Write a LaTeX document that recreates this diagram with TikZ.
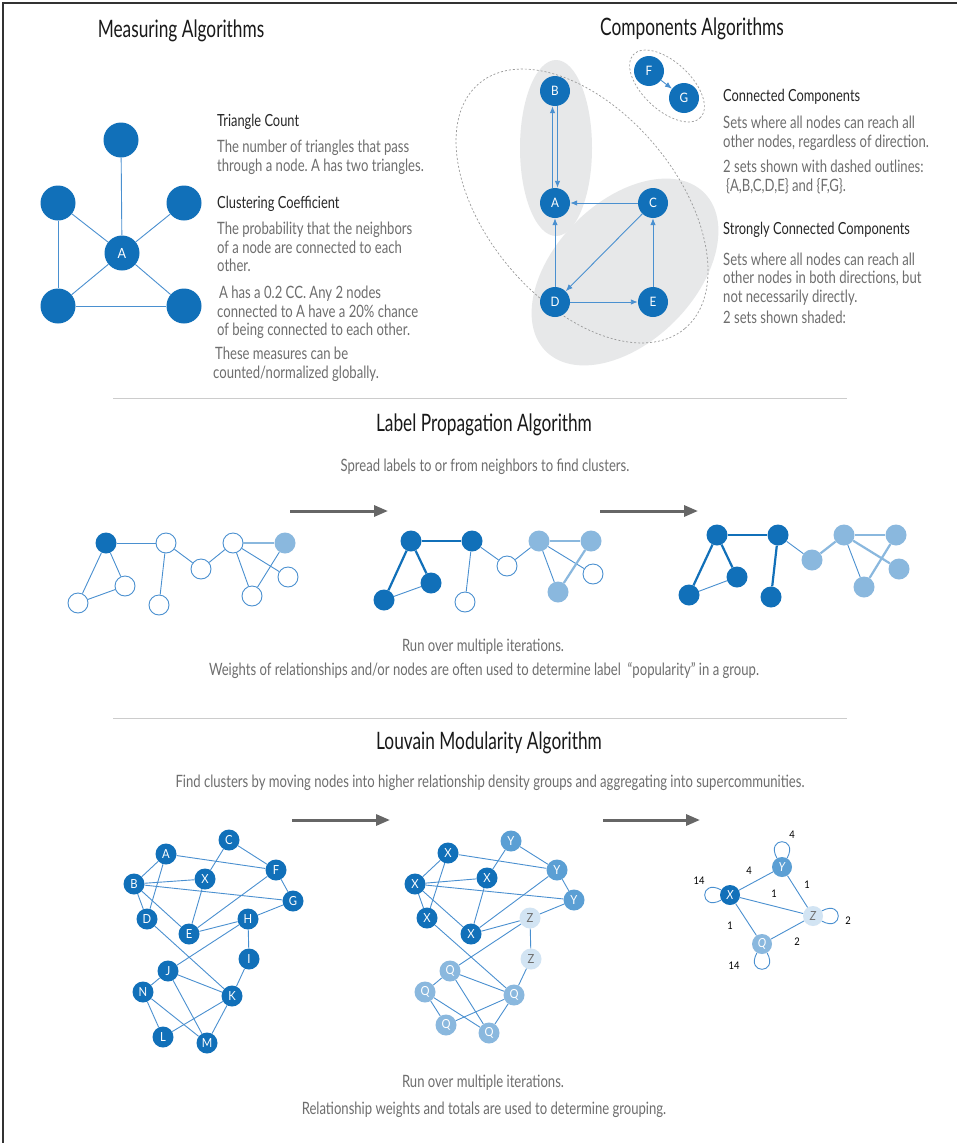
\documentclass[tikz,border=0pt]{standalone}
\usepackage{fontspec}
\setmainfont{Lato}[FakeStretch=0.77]
\newfontfamily\titlefont{Lato}[FakeStretch=0.72]
\newfontfamily\nodefont{Lato}[FakeStretch=0.9]
\frenchspacing
\usetikzlibrary{arrows.meta}
\definecolor{dblue}{HTML}{1170B9}
\definecolor{lblue}{HTML}{8AB8DE}
\definecolor{eblue}{HTML}{4A90D0}
\definecolor{mblue}{HTML}{5B9FD4}
\definecolor{zblue}{HTML}{D2E4F3}
\definecolor{txtgray}{HTML}{6E6E6E}
\definecolor{shadegray}{HTML}{E7E8E9}
\definecolor{dashgray}{HTML}{9A9A9A}
\definecolor{sepgray}{HTML}{CCCCCC}
\definecolor{framegray}{HTML}{333333}
\definecolor{arrgray}{HTML}{666666}
\tikzset{
  ttl/.style={font=\titlefont\fontsize{24}{28}\selectfont, text=black!90, anchor=base, inner sep=0},
  hd/.style={font=\fontsize{16.7}{19}\selectfont, text=black!85, anchor=base west, inner sep=0},
  bd/.style={font=\fontsize{17}{19}\selectfont, text=txtgray, anchor=base west, inner sep=0},
  cbd/.style={font=\fontsize{17}{19}\selectfont, text=txtgray, anchor=base, inner sep=0},
  mnode/.style={circle, fill=dblue, text=white, minimum size=35pt, inner sep=0, font=\nodefont\fontsize{14}{16}\selectfont},
  cnode/.style={circle, fill=dblue, text=white, minimum size=30pt, inner sep=0, font=\nodefont\fontsize{13}{15}\selectfont},
  pdark/.style={circle, fill=dblue, minimum size=21pt, inner sep=0},
  plight/.style={circle, fill=lblue, minimum size=21pt, inner sep=0},
  popen/.style={circle, draw=eblue, line width=0.9pt, fill=white, minimum size=20pt, inner sep=0},
  lnode/.style={circle, fill=dblue, text=white, minimum size=21pt, inner sep=0, font=\nodefont\fontsize{12.5}{14}\selectfont},
  ynode/.style={lnode, fill=mblue},
  qnode/.style={lnode, fill=lblue},
  znode/.style={lnode, fill=zblue, text=txtgray},
  wnode/.style={lnode, minimum size=20pt, font=\nodefont\itshape\fontsize{12.5}{14}\selectfont},
  wlab/.style={font=\nodefont\fontsize{10.5}{12}\selectfont, text=black, inner sep=0},
  edge/.style={draw=eblue, line width=0.9pt},
  thk/.style={draw=dblue, line width=2.2pt},
  lthk/.style={draw=lblue, line width=2.2pt},
  lthin/.style={draw=lblue, line width=1.2pt},
  carr/.style={draw=eblue, line width=0.9pt, -{Latex[length=7pt,width=5.5pt]}},
  garr/.style={draw=arrgray, line width=3pt, -{Triangle[length=14pt,width=11pt]}},
  sep/.style={draw=sepgray, line width=1pt},
  dsh/.style={draw=dashgray, line width=0.7pt, dash pattern=on 2pt off 2pt},
}
\begin{document}
\begin{tikzpicture}[x=1pt,y=-1pt]
\useasboundingbox (0,0) rectangle (957,1143);
\fill[white] (0,0) rectangle (957,1143);
% frame
\coordinate (fa) at (957,3);
\coordinate (fb) at (3,3);
\coordinate (fc) at (3,1143);
\draw[framegray, line width=1.3pt] (fa) -- (fb) -- (fc);

% ===== Measuring Algorithms =====
\node[ttl] (t1) at (181,37) {Measuring Algorithms};
\node[mnode] (m0) at (121,140) {};
\node[mnode] (mA) at (122,253) {A};
\node[mnode] (mL) at (58,203) {};
\node[mnode] (mR) at (184,203) {};
\node[mnode] (mBL) at (58,306) {};
\node[mnode] (mBR) at (184,306) {};
\draw[edge] (m0) -- (mA);
\draw[edge] (mL) -- (mA);
\draw[edge] (mR) -- (mA);
\draw[edge] (mBL) -- (mA);
\draw[edge] (mBR) -- (mA);
\draw[edge] (mL) -- (mBL);
\draw[edge] (mBL) -- (mBR);

\node[hd] (h1) at (217,126) {Triangle Count};
\node[bd] (b1) at (217,152) {The number of triangles that pass};
\node[bd] (b2) at (217,171) {through a node. A has two triangles.};
\node[hd] (h2) at (217,208) {Clustering Coefficient};
\node[bd] (b3) at (217,234) {The probability that the neighbors};
\node[bd] (b4) at (217,253) {of a node are connected to each};
\node[bd] (b5) at (217,271) {other.};
\node[bd] (b6) at (219,298) {A has a 0.2 CC. Any 2 nodes};
\node[bd] (b7) at (217,317) {connected to A have a 20\% chance};
\node[bd] (b8) at (217,335) {of being connected to each other.};
\node[bd] (b9) at (215,359) {These measures can be};
\node[bd] (b10) at (213,378) {counted/normalized globally.};

% ===== Components Algorithms =====
\node[ttl] (t2) at (692,35) {Components Algorithms};
\fill[shadegray] (556,148) ellipse [x radius=36, y radius=88];
\fill[shadegray, shift={(625,272)}, rotate=45] (0,0) ellipse [x radius=112, y radius=70];
\draw[dsh, shift={(582,206)}, rotate=-50] (0,0) ellipse [x radius=160, y radius=95];
\draw[dsh, shift={(667,86)}, rotate=-43] (0,0) ellipse [x radius=46, y radius=24];
\node[cnode] (cB) at (555,91) {B};
\node[cnode] (cA) at (555,203) {A};
\node[cnode] (cC) at (653,203) {C};
\node[cnode] (cD) at (555,302) {D};
\node[cnode] (cE) at (653,302) {E};
\node[cnode] (cF) at (649,71) {F};
\node[cnode] (cG) at (684,98) {G};
\draw[carr] ([xshift=-2.5pt]cA.north) -- ([xshift=-2.5pt]cB.south);
\draw[carr] ([xshift=2.5pt]cB.south) -- ([xshift=2.5pt]cA.north);
\draw[carr] (cC) -- (cA);
\draw[carr] (cD) -- (cA);
\draw[carr] (cC) -- (cD);
\draw[carr] (cD) -- (cE);
\draw[carr] (cE) -- (cC);
\draw[carr] (cF) -- (cG);

\node[hd] (h3) at (723,101) {Connected Components};
\node[bd] (c1) at (723,128) {Sets where all nodes can reach all};
\node[bd] (c2) at (723,147) {other nodes, regardless of direction.};
\node[bd] (c3) at (723,172) {2 sets shown with dashed outlines:};
\node[bd] (c4) at (726,191) {\{A,B,C,D,E\} and \{F,G\}.};
\node[hd] (h4) at (723,234) {Strongly Connected Components};
\node[bd] (c5) at (723,265) {Sets where all nodes can reach all};
\node[bd] (c6) at (723,283) {other nodes in both directions, but};
\node[bd] (c7) at (723,302) {not necessarily directly.};
\node[bd] (c8) at (723,323) {2 sets shown shaded:};

% separators
\coordinate (s1a) at (113,398); \coordinate (s1b) at (847,398);
\draw[sep] (s1a) -- (s1b);
\coordinate (s2a) at (113,718); \coordinate (s2b) at (847,718);
\draw[sep] (s2a) -- (s2b);

% ===== Label Propagation =====
\node[ttl] (t3) at (484,431) {Label Propagation Algorithm};
\node[cbd] (p0) at (485,471) {Spread labels to or from neighbors to find clusters.};
\coordinate (a1s) at (290,511); \coordinate (a1e) at (388,511);
\draw[garr] (a1s) -- (a1e);
\coordinate (a2s) at (600,511); \coordinate (a2e) at (698,511);
\draw[garr] (a2s) -- (a2e);

% graph 1
\node[pdark] (n1) at (106,543) {};
\node[popen] (n2) at (166,543) {};
\node[popen] (n3) at (201,569) {};
\node[popen] (n4) at (233,543) {};
\node[plight] (n5) at (285,543) {};
\node[popen] (n6) at (125,586) {};
\node[popen] (n7) at (78,603) {};
\node[popen] (n8) at (159,605) {};
\node[popen] (n9) at (252,596) {};
\node[popen] (n10) at (288,577) {};
\draw[edge] (n1) -- (n2);
\draw[edge] (n1) -- (n6);
\draw[edge] (n1) -- (n7);
\draw[edge] (n7) -- (n6);
\draw[edge] (n2) -- (n8);
\draw[edge] (n2) -- (n3);
\draw[edge] (n3) -- (n4);
\draw[lthin] (n4) -- (n5);
\draw[edge] (n4) -- (n9);
\draw[edge] (n4) -- (n10);
\draw[edge] (n5) -- (n9);

% graph 2
\node[pdark] (o1) at (411,541) {};
\node[pdark] (o2) at (472,541) {};
\node[popen] (o3) at (507,566) {};
\node[plight] (o4) at (539,541) {};
\node[plight] (o5) at (591,541) {};
\node[pdark] (o6) at (431,583) {};
\node[pdark] (o7) at (384,600) {};
\node[popen] (o8) at (465,602) {};
\node[plight] (o9) at (558,592) {};
\node[popen] (o10) at (593,574) {};
\draw[thk] (o1) -- (o2);
\draw[thk] (o1) -- (o6);
\draw[thk] (o1) -- (o7);
\draw[edge] (o7) -- (o6);
\draw[edge] (o2) -- (o8);
\draw[edge] (o2) -- (o3);
\draw[edge] (o3) -- (o4);
\draw[lthk] (o4) -- (o5);
\draw[edge] (o4) -- (o9);
\draw[edge] (o4) -- (o10);
\draw[lthk] (o5) -- (o9);

% graph 3
\node[pdark] (k1) at (717,535) {};
\node[pdark] (k2) at (778,535) {};
\node[plight] (k3) at (812,560) {};
\node[plight] (k4) at (844,535) {};
\node[plight] (k5) at (896,535) {};
\node[pdark] (k6) at (737,577) {};
\node[pdark] (k7) at (689,595) {};
\node[pdark] (k8) at (771,597) {};
\node[plight] (k9) at (864,587) {};
\node[plight] (k10) at (899,569) {};
\draw[thk] (k1) -- (k2);
\draw[thk] (k1) -- (k6);
\draw[thk] (k1) -- (k7);
\draw[edge] (k7) -- (k6);
\draw[thk] (k2) -- (k8);
\draw[edge] (k2) -- (k3);
\draw[lthk] (k3) -- (k4);
\draw[lthin] (k4) -- (k5);
\draw[edge] (k4) -- (k9);
\draw[lthk] (k4) -- (k10);
\draw[lthk] (k5) -- (k9);

\node[cbd] (p1) at (483,651) {Run over multiple iterations.};
\node[cbd] (p2) at (484,675) {Weights of relationships and/or nodes are often used to determine label \ ``popularity'' in a group.};

% ===== Louvain =====
\node[ttl] (t4) at (489,749) {Louvain Modularity Algorithm};
\node[cbd] (q0) at (490,787) {Find clusters by moving nodes into higher relationship density groups and aggregating into supercommunities.};
\coordinate (a3s) at (292,820); \coordinate (a3e) at (390,820);
\draw[garr] (a3s) -- (a3e);
\coordinate (a4s) at (603,820); \coordinate (a4e) at (700,820);
\draw[garr] (a4s) -- (a4e);

% L1
\node[lnode] (la) at (166,854) {A};
\node[lnode] (lc) at (229,840) {C};
\node[lnode] (lb) at (134,884) {B};
\node[lnode] (lx) at (205,879) {X};
\node[lnode] (lf) at (276,870) {F};
\node[lnode] (lg) at (293,901) {G};
\node[lnode] (ld) at (147,919) {D};
\node[lnode] (le) at (189,934) {E};
\node[lnode] (lh) at (248,919) {H};
\node[lnode] (li) at (249,959) {I};
\node[lnode] (lj) at (168,971) {J};
\node[lnode] (ln) at (143,992) {N};
\node[lnode] (lk) at (232,996) {K};
\node[lnode] (ll) at (163,1037) {L};
\node[lnode] (lm) at (207,1043) {M};
\foreach \u/\v in {la/lb,la/ld,la/lf,lb/lx,lb/lg,lb/ld,lb/le,lc/lx,lc/lf,lx/le,lf/le,lf/lg,lg/lh,lh/le,lh/lj,lh/li,li/lk,ld/lk,lj/ln,lj/lk,lj/lm,ln/ll,ln/lm,ll/lk,lk/lm}
  \draw[edge] (\u) -- (\v);

% L2
\node[lnode] (ma) at (448,853) {X};
\node[ynode] (mc) at (511,841) {Y};
\node[lnode] (mb) at (415,884) {X};
\node[lnode] (mx) at (487,878) {X};
\node[ynode] (mf) at (557,870) {Y};
\node[ynode] (mg) at (574,900) {Y};
\node[lnode] (md) at (427,918) {X};
\node[lnode] (me) at (471,934) {X};
\node[znode] (mh) at (530,918) {Z};
\node[znode] (mi) at (531,959) {Z};
\node[qnode] (mj) at (450,971) {Q};
\node[qnode] (mn) at (425,992) {Q};
\node[qnode] (mk) at (514,995) {Q};
\node[qnode] (ml) at (446,1025) {Q};
\node[qnode] (mm) at (489,1033) {Q};
\foreach \u/\v in {ma/mb,ma/md,ma/mf,mb/mx,mb/mg,mb/md,mb/me,mc/mx,mc/mf,mx/me,mf/me,mf/mg,mg/mh,mh/me,mh/mj,mh/mi,mi/mk,md/mk,mj/mn,mj/mk,mj/mm,mn/ml,mn/mm,ml/mk,mk/mm}
  \draw[edge] (\u) -- (\v);

% L3
\node[wnode, fill=mblue] (wy) at (782,867) {Y};
\node[wnode] (wx) at (730,895) {X};
\node[wnode, fill=zblue, text=txtgray] (wz) at (813,916) {Z};
\node[wnode, fill=lblue] (wq) at (762,944) {Q};
\draw[edge] (wx) -- (wy);
\draw[edge] (wx) -- (wz);
\draw[edge] (wx) -- (wq);
\draw[edge] (wy) -- (wz);
\draw[edge] (wq) -- (wz);
\draw[edge] (wy.120) .. controls +(-12,-22) and +(12,-22) .. (wy.60);
\draw[edge] (wx.150) .. controls +(-22,-12) and +(-22,12) .. (wx.210);
\draw[edge] (wz.30) .. controls +(22,-12) and +(22,12) .. (wz.330);
\draw[edge] (wq.240) .. controls +(-12,22) and +(12,22) .. (wq.300);
\node[wlab] (w1) at (792,835) {4};
\node[wlab] (w2) at (749,871) {4};
\node[wlab] (w3) at (699,881) {14};
\node[wlab] (w4) at (774,894) {1};
\node[wlab] (w5) at (807,885) {1};
\node[wlab] (w6) at (848,921) {2};
\node[wlab] (w7) at (730,926) {1};
\node[wlab] (w8) at (797,942) {2};
\node[wlab] (w9) at (734,966) {14};

\node[cbd] (q1) at (483,1087) {Run over multiple iterations.};
\node[cbd] (q2) at (484,1114) {Relationship weights and totals are used to determine grouping.};
\end{tikzpicture}
\end{document}
